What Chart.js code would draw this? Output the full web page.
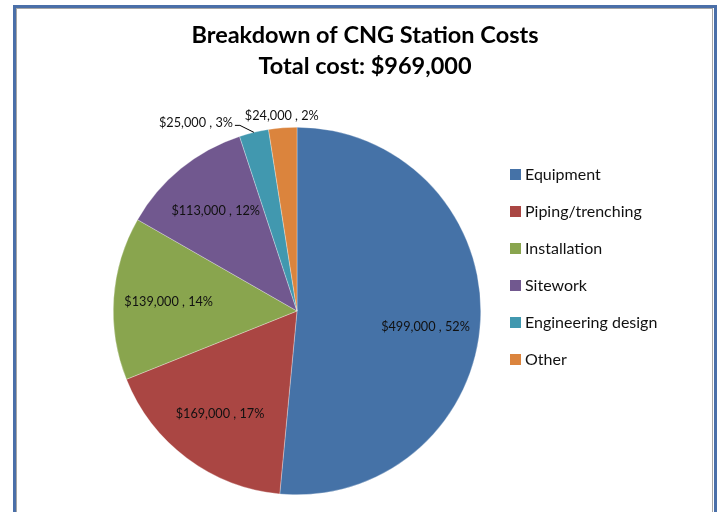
<!DOCTYPE html>
<html>
<head>
<meta charset="utf-8">
<script src="https://cdn.jsdelivr.net/npm/chart.js@4.4.1/dist/chart.umd.min.js"></script>
<style>
html,body{margin:0;padding:0;background:#fff;}
#wrap{position:relative;width:719px;height:512px;overflow:hidden;}
canvas{position:absolute;left:0;top:0;}
</style>
</head>
<body>
<div id="wrap"><canvas id="c" width="719" height="512"></canvas></div>
<script>
const categories = ["Equipment", "Piping/trenching", "Installation", "Sitework", "Engineering design", "Other"];
const costs = [499000, 169000, 139000, 113000, 25000, 24000];
const percentLabels = ["52%", "17%", "14%", "12%", "3%", "2%"];
const sliceColors = ["#4572A7", "#AA4643", "#89A54E", "#71588F", "#4198AF", "#DB843D"];
const titleLines = ["Breakdown of CNG Station Costs", "Total cost: $969,000"];

const FONT = "Lato, 'Open Sans', sans-serif";

function money(v){ return "$" + v.toLocaleString("en-US"); }

const framePlugin = {
  id: "frame",
  beforeDraw(chart){
    const ctx = chart.ctx;
    ctx.save();
    ctx.fillStyle = "#fff";
    ctx.fillRect(0,0,chart.width,chart.height);
    ctx.strokeStyle = "#4A6FA8";
    ctx.lineWidth = 3;
    ctx.strokeRect(14.5, 6.5, 701, 600);
    ctx.strokeStyle = "#A6A6A6";
    ctx.lineWidth = 1;
    ctx.strokeRect(16.5, 8.5, 696, 600);
    ctx.restore();
  }
};

const decorPlugin = {
  id: "decor",
  afterDraw(chart){
    const ctx = chart.ctx;
    ctx.save();
    // title
    ctx.fillStyle = "#000";
    ctx.textAlign = "center";
    ctx.textBaseline = "alphabetic";
    ctx.font = "bold 23.5px " + FONT;
    ctx.fillText(titleLines[0], 365, 43);
    ctx.fillText(titleLines[1], 365, 74);

    // legend
    ctx.textAlign = "left";
    ctx.textBaseline = "middle";
    ctx.font = "16px " + FONT;
    chart.data.labels.forEach((lab, i) => {
      const y = 174.5 + i * 37;
      ctx.fillStyle = chart.data.datasets[0].backgroundColor[i];
      ctx.fillRect(510, y - 5.5, 11, 11);
      ctx.fillStyle = "#111";
      ctx.fillText(lab, 525, y + 0.5);
    });

    // data labels
    const meta = chart.getDatasetMeta(0);
    const ds = chart.data.datasets[0];
    ctx.font = "12.7px " + FONT;
    ctx.fillStyle = "#111";
    meta.data.forEach((arc, i) => {
      const p = arc.getProps(["x","y","startAngle","endAngle","outerRadius"], true);
      const mid = (p.startAngle + p.endAngle) / 2;
      const text = money(ds.data[i]) + " , " + percentLabels[i];
      const frac = (p.endAngle - p.startAngle) / (Math.PI * 2);
      if (frac > 0.05) {
        const r = p.outerRadius * 0.7;
        const nudge = i === 0 ? 10 : 0;
        ctx.textAlign = "center";
        ctx.fillText(text, p.x + Math.cos(mid) * r, p.y + Math.sin(mid) * r + nudge);
      } else if (i === 4) {
        const ex = p.x + Math.cos(mid) * p.outerRadius;
        const ey = p.y + Math.sin(mid) * p.outerRadius;
        ctx.strokeStyle = "#000";
        ctx.lineWidth = 1;
        ctx.beginPath();
        ctx.moveTo(ex, ey);
        ctx.lineTo(ex - 14, ey - 7);
        ctx.lineTo(ex - 19, ey - 7);
        ctx.stroke();
        ctx.textAlign = "right";
        ctx.fillText(text, ex - 21, ey - 9);
      } else {
        const r = p.outerRadius + 12;
        ctx.textAlign = "center";
        ctx.fillText(text, p.x + Math.cos(mid) * r, p.y + Math.sin(mid) * r);
      }
    });
    ctx.restore();
  }
};

new Chart(document.getElementById("c"), {
  type: "pie",
  data: {
    labels: categories,
    datasets: [{
      data: costs,
      backgroundColor: sliceColors,
      borderColor: "rgba(255,255,255,0.6)",
      borderWidth: 0.5
    }]
  },
  options: {
    responsive: false,
    animation: false,
    devicePixelRatio: 1,
    layout: { padding: { left: 113, right: 238, top: 127, bottom: 17 } },
    plugins: {
      legend: { display: false },
      title: { display: false },
      tooltip: { enabled: false }
    }
  },
  plugins: [framePlugin, decorPlugin]
});
</script>
</body>
</html>
